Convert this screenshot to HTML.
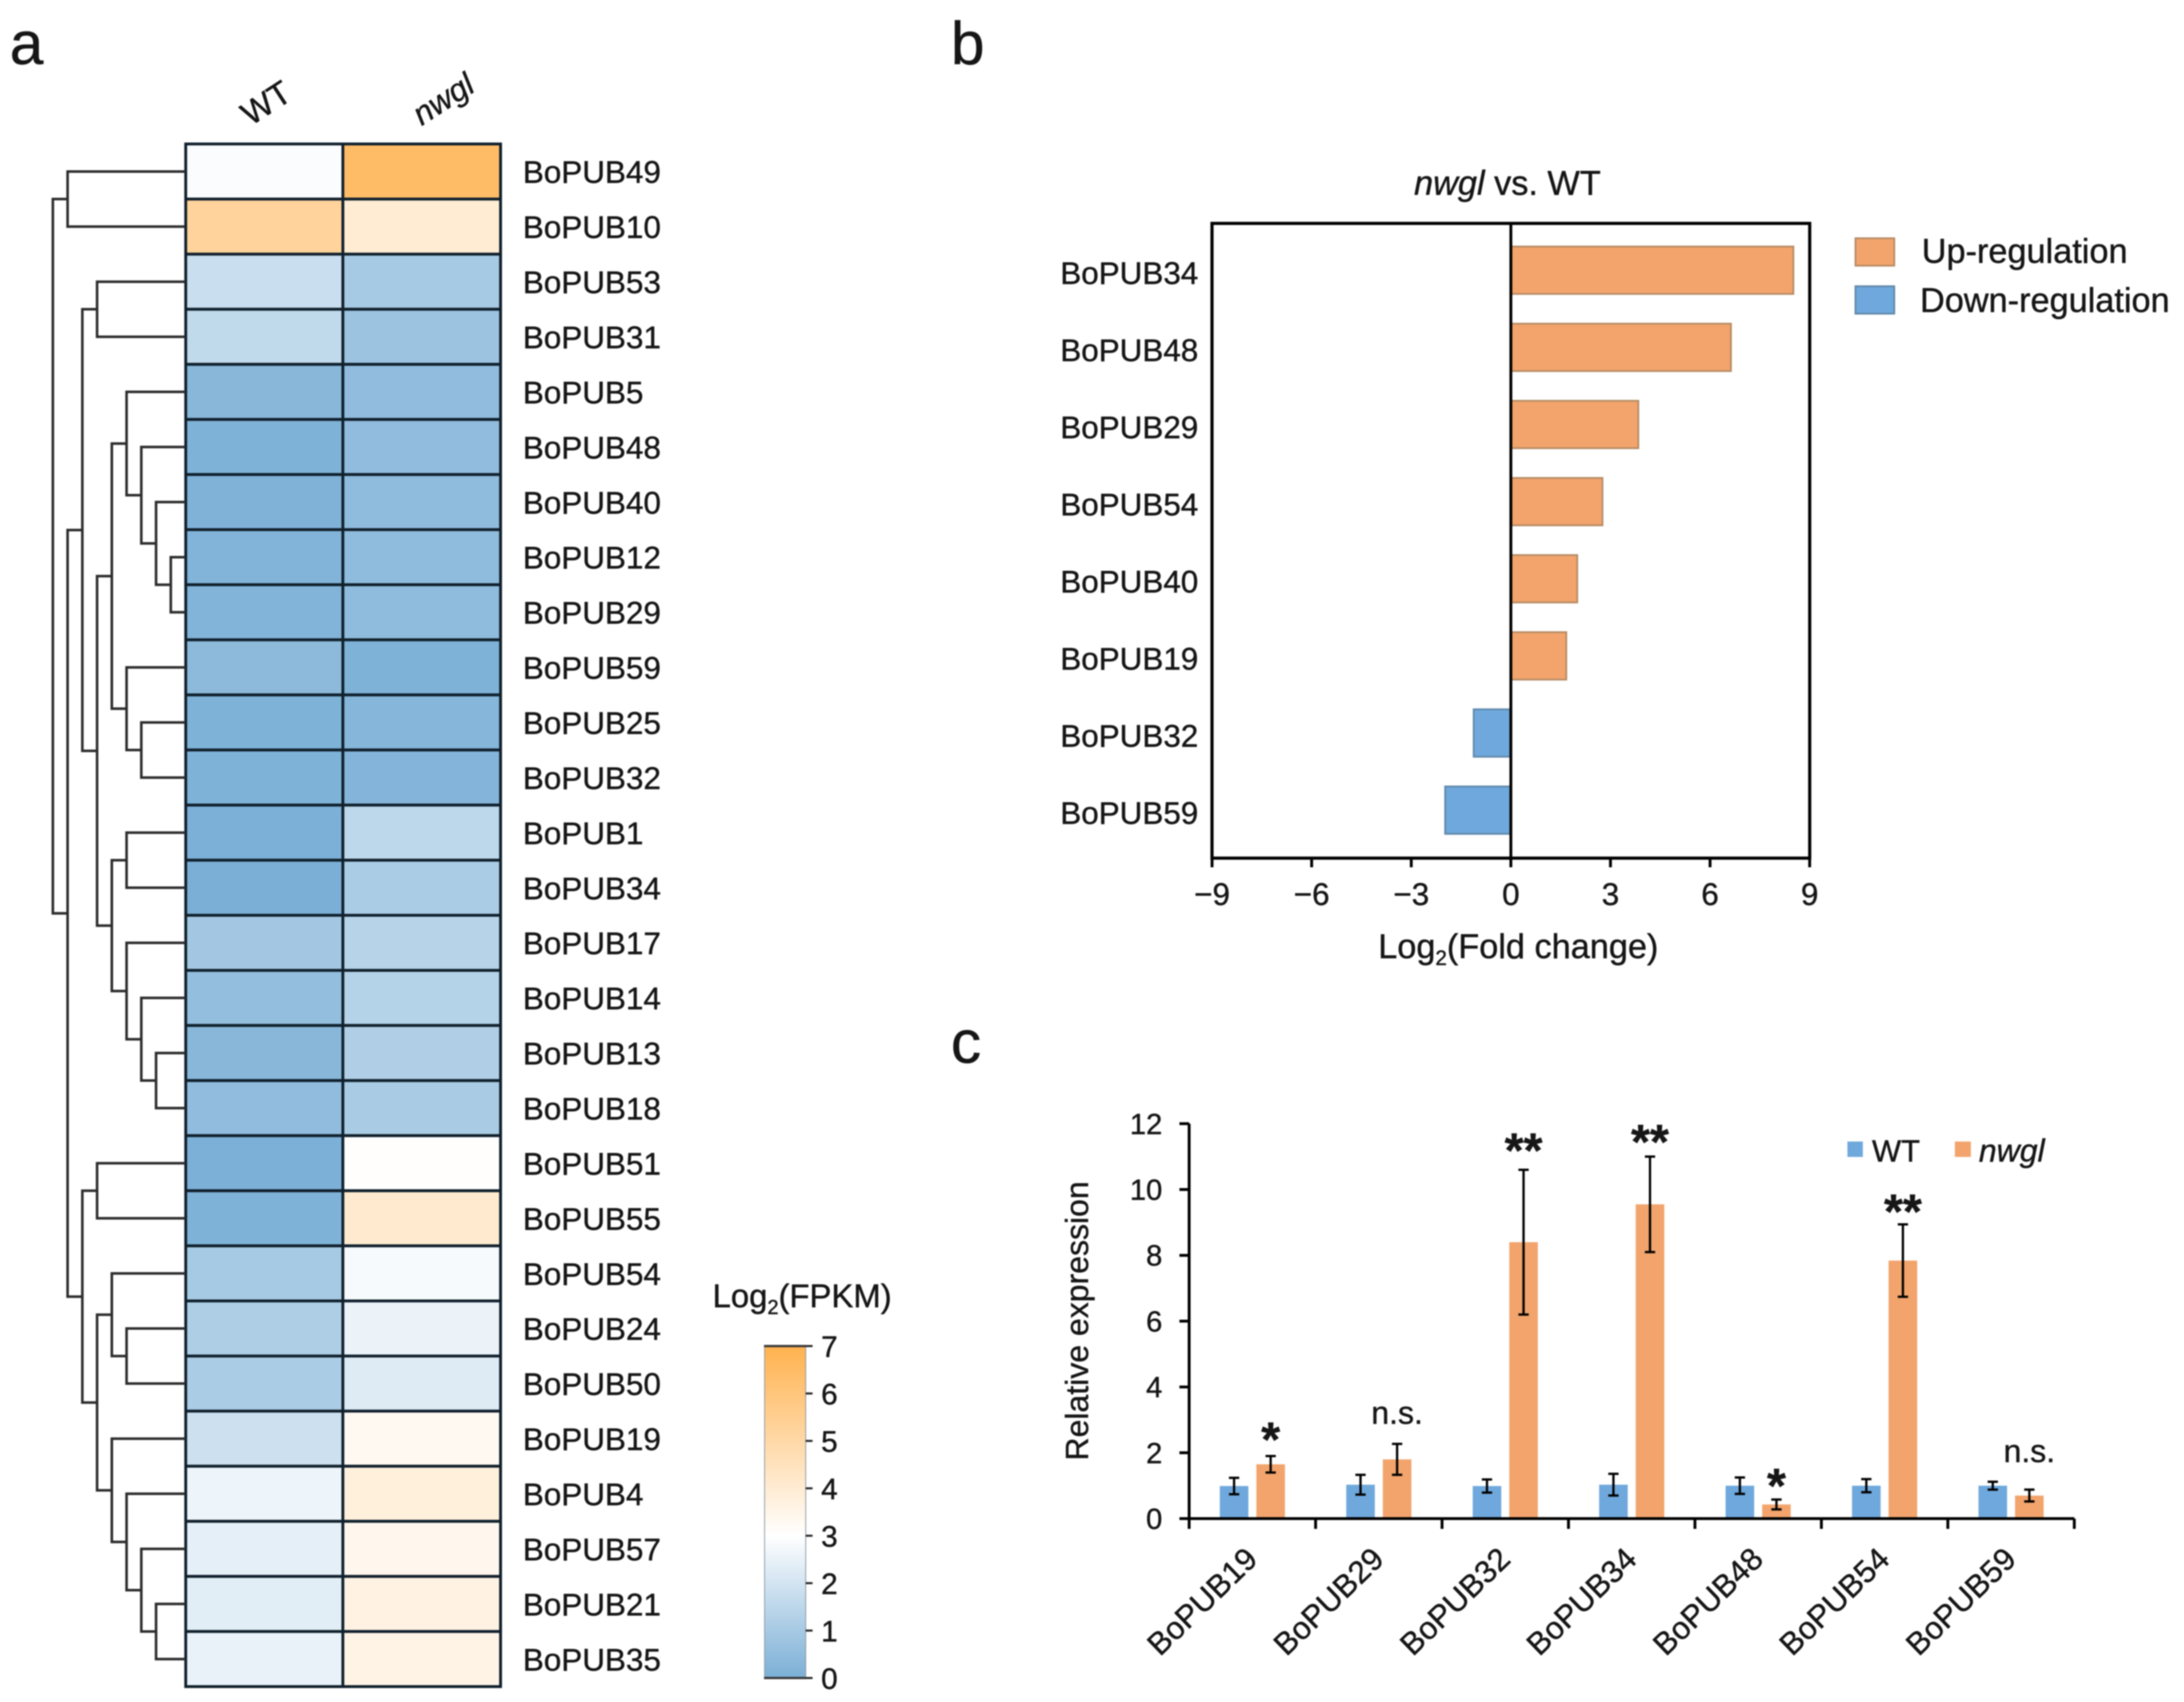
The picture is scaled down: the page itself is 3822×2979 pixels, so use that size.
<!DOCTYPE html>
<html lang="en">
<head>
<meta charset="utf-8">
<title>BoPUB expression figure</title>
<style>
html,body{margin:0;padding:0;background:#fff;}
svg{display:block;filter:blur(1.1px);}
text{font-family:"Liberation Sans",sans-serif;fill:#161616;stroke:#161616;stroke-width:0.7px;}
</style>
</head>
<body>
<svg id="fig" xmlns="http://www.w3.org/2000/svg" width="3822" height="2979" viewBox="0 0 3822 2979">
  <defs>
    <linearGradient id="cbar" x1="0" y1="1" x2="0" y2="0">
      <stop offset="0" stop-color="#7bafd6"/>
      <stop offset="0.4286" stop-color="#ffffff"/>
      <stop offset="1" stop-color="#ffb24f"/>
    </linearGradient>
  </defs>
  <rect width="3822" height="2979" fill="#fff"/>

  <text x="17" y="112" font-size="106">a</text>
  <text x="1664" y="112" font-size="106">b</text>
  <text x="1664" y="1860" font-size="106">c</text>

  <g id="panelA">
    <text transform="translate(468,184) rotate(-33)" text-anchor="middle" dominant-baseline="middle" font-size="58">WT</text>
    <text transform="translate(778,177) rotate(-33)" text-anchor="middle" dominant-baseline="middle" font-size="56" font-style="italic">nwgl</text>
    <text x="1247" y="2288" font-size="57.5">Log<tspan font-size="35" dy="12">2</tspan><tspan dy="-12">(FPKM)</tspan></text>
    <rect x="1338" y="2356" width="72" height="581" fill="url(#cbar)" stroke="#8a97a3" stroke-width="1.5"/>
    <line x1="1337" x2="1410" y1="2356" y2="2356" stroke="#3a3a3a" stroke-width="4"/>
    <line x1="1337" x2="1410" y1="2937" y2="2937" stroke="#3a3a3a" stroke-width="4"/>
  </g>

  <g id="panelB">
    <text x="2638" y="341" font-size="60" text-anchor="middle"><tspan font-style="italic">nwgl</tspan> vs. WT</text>
    <text x="2657" y="1677" font-size="60" text-anchor="middle">Log<tspan font-size="36" dy="12">2</tspan><tspan dy="-12">(Fold change)</tspan></text>
    <rect x="3247" y="417" width="68" height="48" fill="#f2a46c" stroke="#b58a63" stroke-width="3"/>
    <text x="3363" y="460" font-size="60">Up-regulation</text>
    <rect x="3247" y="501" width="68" height="48" fill="#6fa8dc" stroke="#5f87a8" stroke-width="3"/>
    <text x="3360" y="546" font-size="60">Down-regulation</text>
  </g>

  <g id="panelC">
    <text transform="translate(1904,2312) rotate(-90)" font-size="56" text-anchor="middle">Relative expression</text>
    <rect x="3233" y="1998" width="27" height="27" fill="#6fa8dc"/>
    <text x="3276" y="2033" font-size="54">WT</text>
    <rect x="3421" y="1998" width="28" height="27" fill="#f2a46c"/>
    <text x="3463" y="2033" font-size="56" font-style="italic">nwgl</text>
  </g>
</svg>
<script>
// ---------- Panel a data ----------
const heatGenes = ["BoPUB49","BoPUB10","BoPUB53","BoPUB31","BoPUB5","BoPUB48","BoPUB40","BoPUB12","BoPUB29","BoPUB59","BoPUB25","BoPUB32","BoPUB1","BoPUB34","BoPUB17","BoPUB14","BoPUB13","BoPUB18","BoPUB51","BoPUB55","BoPUB54","BoPUB24","BoPUB50","BoPUB19","BoPUB4","BoPUB57","BoPUB21","BoPUB35"];
const heatWT = [2.9,5.27,1.77,1.56,0.3,0.1,0.12,0.15,0.15,0.4,0.1,0.1,0.05,0,0.9,0.55,0.3,0.5,0.05,0.1,1.0,1.15,1.1,1.85,2.6,2.4,2.35,2.5];
const heatNwgl = [6.46,4.0,1.0,0.75,0.5,0.5,0.45,0.45,0.45,0.1,0.25,0.2,1.5,1.1,1.35,1.3,1.2,1.05,3.05,4.1,2.8,2.55,2.25,3.3,3.8,3.4,3.65,3.6];
const colorbarTicks = [0,1,2,3,4,5,6,7];
// Dendrogram: [mergeLevel, childA, childB]; bare numbers are row indices.
const dendrogram = [0,
  [1,0,1],
  [1,
    [2,
      [3,2,3],
      [3,
        [4,
          [5,4,[6,5,[7,6,[8,7,8]]]],
          [5,9,[6,10,11]]],
        [4,
          [5,12,13],
          [5,14,[6,15,[7,16,17]]]]]],
    [2,
      [3,18,19],
      [3,
        [4,20,[5,21,22]],
        [4,23,[5,24,[6,25,[7,26,27]]]]]]]];

// ---------- Panel b data ----------
const foldGenes = ["BoPUB34","BoPUB48","BoPUB29","BoPUB54","BoPUB40","BoPUB19","BoPUB32","BoPUB59"];
const foldValues = [8.51,6.63,3.84,2.76,2.0,1.67,-1.12,-1.98];
const foldTicks = [-9,-6,-3,0,3,6,9];

// ---------- Panel c data ----------
const exprGenes = ["BoPUB19","BoPUB29","BoPUB32","BoPUB34","BoPUB48","BoPUB54","BoPUB59"];
const exprWT = [0.99,1.03,0.99,1.03,1.0,1.0,1.0];
const exprNwgl = [1.65,1.8,8.4,9.55,0.43,7.84,0.7];
const errWT = [0.25,0.3,0.2,0.33,0.25,0.2,0.12];
const errNwgl = [0.25,0.47,2.2,1.45,0.15,1.1,0.18];
const exprTicks = [0,2,4,6,8,10,12];
const exprMarks = ["*","n.s.","**","**","*","**","n.s."];
const exprMarkLevels = [2.73,3.23,11.51,11.77,1.32,9.65,2.07];

// ---------- helpers ----------
const NS = "http://www.w3.org/2000/svg";
function make(tag, parent, attrs, txt){
  const el = document.createElementNS(NS, tag);
  for (const k in attrs) el.setAttribute(k, attrs[k]);
  if (txt !== undefined) el.textContent = txt;
  parent.appendChild(el);
  return el;
}
function lerp(a,b,t){return a+(b-a)*t;}
function heatColor(v){
  const lo=[123,175,214], mid=[255,255,255], hi=[255,178,79];
  let c;
  if (v<=3){const t=v/3; c=lo.map((x,i)=>Math.round(lerp(x,mid[i],t)));}
  else {const t=(v-3)/4; c=mid.map((x,i)=>Math.round(lerp(x,hi[i],t)));}
  return "rgb("+c.join(",")+")";
}

// ---------- Panel a ----------
const pa = document.getElementById("panelA");
const heatTop=252, rowH=96.43, colX=[325,600,876];
const rowY = i => heatTop + rowH*i;
const rowMid = i => heatTop + rowH*(i+0.5);
const levelX = l => 92.5 + 25.8*l;
const heatSeries=[heatWT,heatNwgl];
heatGenes.forEach((g,i)=>{
  heatSeries.forEach((vals,c)=>{
    const cell = make("rect",pa,{x:colX[c],y:rowY(i),width:colX[c+1]-colX[c],height:rowH,fill:heatColor(vals[i]),stroke:"#10202c","stroke-width":5});
    
    
  });
  const lab = make("text",pa,{x:915,y:rowMid(i)+20,"font-size":55},g);
  
  
});
function drawNode(node){
  if (typeof node === "number") return {x:levelX(9), y:rowMid(node)};
  const a=drawNode(node[1]), b=drawNode(node[2]), x=levelX(node[0]);
  const link = make("path",pa,{d:"M"+a.x+" "+a.y+"H"+x+"V"+b.y+"H"+b.x,fill:"none",stroke:"#2c2c2c","stroke-width":4.5});
  
  
  return {x:x,y:(a.y+b.y)/2};
}
drawNode(dendrogram);
const cbY = v => 2937 - v*(2937-2356)/7;
colorbarTicks.forEach(t=>{
  const tk = make("line",pa,{x1:1410,x2:1422,y1:cbY(t),y2:cbY(t),stroke:"#222","stroke-width":3.5});
  
  
  const lb = make("text",pa,{x:1437,y:cbY(t)+19,"font-size":52},t);
  
  
});

// ---------- Panel b ----------
const pb = document.getElementById("panelB");
const fx = v => 2644 + v*58.1;
const bandTop=405.5, bandH=135;
const fy = i => bandTop + bandH*(i+0.5);
foldGenes.forEach((g,i)=>{
  const v=foldValues[i];
  const bar = make("rect",pb,{x:Math.min(fx(0),fx(v)),y:fy(i)-41.5,width:Math.abs(fx(v)-fx(0)),height:83,fill:v>=0?"#f2a46c":"#6fa8dc",stroke:v>=0?"#b58a63":"#5f87a8","stroke-width":3});
  
  
  const lab = make("text",pb,{x:2097,y:fy(i)+24,"font-size":55,"text-anchor":"end"},g);
  
  
});
const frame = make("rect",pb,{x:2121,y:391,width:1046,height:1111,fill:"none",stroke:"#000","stroke-width":5.5});


const zero = make("line",pb,{x1:fx(0),x2:fx(0),y1:391,y2:1502,stroke:"#000","stroke-width":5});


foldTicks.forEach(t=>{
  const tk = make("line",pb,{x1:fx(t),x2:fx(t),y1:1502,y2:1518,stroke:"#000","stroke-width":5});
  
  
  const lb = make("text",pb,{x:fx(t),y:1584,"font-size":55,"text-anchor":"middle"},t<0?"\u2212"+Math.abs(t):t);
  
  
});

// ---------- Panel c ----------
const pc = document.getElementById("panelC");
const ey = v => 2658 - v*57.6;
const catW = (3630-2081)/7;
const catX = i => 2081 + catW*(i+0.5);
function exprBar(i,off,v,e,color,name){
  const x=catX(i)+off;
  const b = make("rect",pc,{x:x-25,y:ey(v),width:50,height:ey(0)-ey(v),fill:color});
  
  
  const err = make("path",pc,{d:"M"+x+" "+ey(v+e)+"V"+ey(v-e)+"M"+(x-9)+" "+ey(v+e)+"H"+(x+9)+"M"+(x-9)+" "+ey(v-e)+"H"+(x+9),fill:"none",stroke:"#000","stroke-width":4});
  
  
}
exprGenes.forEach((g,i)=>{
  exprBar(i,-32,exprWT[i],errWT[i],"#6fa8dc","expression-bar-wt");
  exprBar(i,32,exprNwgl[i],errNwgl[i],"#f2a46c","expression-bar-nwgl");
  const lab = make("text",pc,{transform:"translate("+(catX(i)-85)+",2806) rotate(-44)","text-anchor":"middle","dominant-baseline":"middle","font-size":55},g);
  
  
  const mark = exprMarks[i];
  const isStar = mark.charAt(0)==="*";
  const m = make("text",pc,{x:catX(i)+32,y:ey(exprMarkLevels[i])+(isStar?48:20),"font-size":isStar?85:56,"font-weight":isStar?"bold":"normal","text-anchor":"middle"},mark);
  
  
});
const yAxis = make("line",pc,{x1:2081,x2:2081,y1:ey(12),y2:ey(0),stroke:"#000","stroke-width":5});


const xAxis = make("line",pc,{x1:2081,x2:3630,y1:ey(0),y2:ey(0),stroke:"#000","stroke-width":5});


exprTicks.forEach(t=>{
  const tk = make("line",pc,{x1:2064,x2:2081,y1:ey(t),y2:ey(t),stroke:"#000","stroke-width":5});
  
  
  const lb = make("text",pc,{x:2034,y:ey(t)+18,"font-size":51,"text-anchor":"end"},t);
  
  
});
for (let i=0;i<=exprGenes.length;i++){
  const tk = make("line",pc,{x1:2081+catW*i,x2:2081+catW*i,y1:ey(0),y2:2676,stroke:"#000","stroke-width":5});
  
  
}
</script>
</body>
</html>
